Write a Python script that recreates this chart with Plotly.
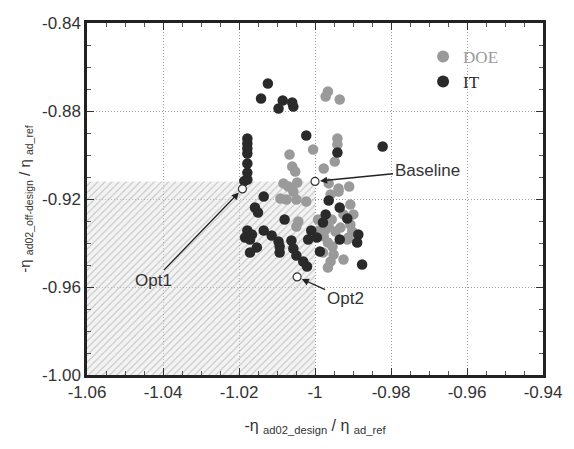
import numpy as np
import plotly.graph_objects as go

# ---- data ----
doe_x = [-0.9966, -0.9972, -0.9935, -0.9941, -0.9941, -1.0005, -1.0067, -0.9948, -1.0060, -1.0052,
         -0.9977, -1.0047, -1.0083, -1.0070, -1.0057, -1.0091, -1.0075, -1.0049, -1.0023, -0.9964,
         -0.9938, -0.9910, -0.9938, -0.9959, -0.9907, -0.9925, -0.9899, -0.9907, -1.0044, -1.0049,
         -0.9990, -0.9964, -0.9977, -0.9966, -0.9912, -0.9902, -0.9915, -0.9954, -0.9979, -0.9951,
         -0.9925, -0.9959, -0.9966, -0.9992, -0.9956, -0.9946, -0.9933, -0.9972]
doe_y = [-0.8711, -0.8734, -0.8748, -0.8925, -0.8952, -0.8975, -0.8998, -0.9030, -0.9052, -0.9075,
         -0.9061, -0.9125, -0.9129, -0.9143, -0.9166, -0.9198, -0.9202, -0.9202, -0.9211, -0.9129,
         -0.9152, -0.9143, -0.9166, -0.9179, -0.9225, -0.9270, -0.9270, -0.9316, -0.9302, -0.9325,
         -0.9343, -0.9325, -0.9370, -0.9398, -0.9375, -0.9348, -0.9384, -0.9416, -0.9443, -0.9452,
         -0.9475, -0.9484, -0.9511, -0.9293, -0.9293, -0.9348, -0.9330, -0.9339]

it_x = [-1.0124, -1.0142, -1.0085, -1.0096, -1.0060, -1.0057, -1.0023, -0.9822, -1.0178, -1.0178,
        -1.0178, -1.0178, -1.0178, -1.0178, -1.0178, -1.0186, -0.9941, -1.0135, -1.0158, -1.0150,
        -1.0080, -0.9964, -0.9935, -0.9972, -0.9915, -0.9979, -1.0178, -1.0166, -1.0184, -1.0171,
        -1.0135, -1.0114, -1.0096, -1.0093, -1.0153, -1.0171, -1.0093, -1.0062, -1.0057, -1.0049,
        -1.0031, -1.0021, -1.0010, -1.0018, -0.9995, -0.9987, -0.9935, -0.9886, -0.9889, -0.9876]
it_y = [-0.8675, -0.8743, -0.8752, -0.8789, -0.8761, -0.8780, -0.8911, -0.8961, -0.8925, -0.8948,
        -0.8970, -0.8993, -0.9039, -0.9080, -0.9111, -0.9118, -0.8989, -0.9189, -0.9239, -0.9261,
        -0.9293, -0.9207, -0.9239, -0.9270, -0.9289, -0.9307, -0.9343, -0.9361, -0.9375, -0.9384,
        -0.9343, -0.9366, -0.9393, -0.9416, -0.9420, -0.9443, -0.9443, -0.9389, -0.9425, -0.9457,
        -0.9484, -0.9507, -0.9343, -0.9384, -0.9375, -0.9439, -0.9384, -0.9361, -0.9398, -0.9498]

special_names = ["Baseline", "Opt1", "Opt2"]
special_x = [-1.0, -1.0191, -1.0047]
special_y = [-0.912, -0.9154, -0.9554]

x_ticks = [-1.06, -1.04, -1.02, -1.0, -0.98, -0.96, -0.94]
x_ticktext = ["-1.06", "-1.04", "-1.02", "-1", "-0.98", "-0.96", "-0.94"]
y_ticks = [-1.0, -0.96, -0.92, -0.88, -0.84]
y_ticktext = ["-1.00", "-0.96", "-0.92", "-0.88", "-0.84"]

# minor tick positions
x_minor = [round(v, 4) for v in np.arange(x_ticks[0], x_ticks[-1] + 1e-9, 0.005)]
y_minor = [round(v, 4) for v in np.arange(y_ticks[0], y_ticks[-1] + 1e-9, 0.01)]

# hatched region: better than baseline in both objectives
region_x = [x_ticks[0], special_x[0], special_x[0], x_ticks[0], x_ticks[0]]
region_y = [y_ticks[0], y_ticks[0], special_y[0], special_y[0], y_ticks[0]]

DOE_COLOR = "#9a9a9a"
IT_COLOR = "#2a2a2a"

fig = go.Figure()

fig.add_trace(go.Scatter(
    x=region_x, y=region_y, mode="lines", fill="toself",
    line=dict(width=0, color="rgba(0,0,0,0)"),
    fillcolor="rgba(220,220,220,0.4)",
    fillpattern=dict(shape="/", fgcolor="rgba(140,140,140,0.85)",
                     bgcolor="rgba(228,228,228,0.45)", size=5, solidity=0.22),
    showlegend=False, hoverinfo="skip"))

fig.add_trace(go.Scatter(
    x=doe_x, y=doe_y, mode="markers", name="<span style='color:#9a9a9a'>DOE</span>",
    marker=dict(color=DOE_COLOR, size=10.5, line=dict(width=0))))
fig.add_trace(go.Scatter(
    x=it_x, y=it_y, mode="markers", name="<span style='color:#2a2a2a'>IT</span>",
    marker=dict(color=IT_COLOR, size=10.5, line=dict(width=0))))
fig.add_trace(go.Scatter(
    x=special_x, y=special_y, mode="markers", showlegend=False,
    marker=dict(color="white", size=8, line=dict(width=1.2, color="#333"))))

# annotations (label offsets in pixels)
offsets = {"Baseline": (112, -11), "Opt1": (-89, 92), "Opt2": (48, 22)}
for name, xv, yv in zip(special_names, special_x, special_y):
    ax, ay = offsets[name]
    fig.add_annotation(x=xv, y=yv, xref="x", yref="y", text=name, showarrow=True,
                       ax=ax, ay=ay, arrowhead=2, arrowsize=1.1, arrowwidth=1.3,
                       arrowcolor="#222", standoff=5,
                       font=dict(family="Liberation Sans, Arial", size=17, color="#333"))

axis_common = dict(
    showline=True, linewidth=2.5, linecolor="#222", mirror="allticks",
    ticks="inside", ticklen=7, tickwidth=1.2, tickcolor="#333",
    showgrid=True, gridcolor="#9a9a9a", gridwidth=1, griddash="1px,2px",
    zeroline=False, layer="above traces",
    tickfont=dict(family="Liberation Sans, Arial", size=17, color="#333"),
)

fig.update_xaxes(
    range=[x_ticks[0], x_ticks[-1]], tickmode="array", tickvals=x_ticks, ticktext=x_ticktext,
    minor=dict(tickmode="array", tickvals=x_minor, ticks="inside", ticklen=4,
               tickcolor="#555", tickwidth=1, showgrid=False),
    title=dict(text="-η <sub>ad02_design</sub> / η <sub>ad_ref</sub>",
               font=dict(family="Liberation Sans, Arial", size=16, color="#333"), standoff=19),
    **axis_common)
fig.update_yaxes(
    range=[y_ticks[0], y_ticks[-1]], tickmode="array", tickvals=y_ticks, ticktext=y_ticktext,
    minor=dict(tickmode="array", tickvals=y_minor, ticks="inside", ticklen=4,
               tickcolor="#555", tickwidth=1, showgrid=False),
    title=dict(text="-η <sub>ad02_off-design</sub> / η <sub>ad_ref</sub>",
               font=dict(family="Liberation Sans, Arial", size=15, color="#333"), standoff=8),
    **axis_common)

fig.update_layout(
    width=574, height=449,
    margin=dict(l=87, r=23, t=23, b=74),
    paper_bgcolor="white", plot_bgcolor="white",
    legend=dict(x=0.737, y=0.955, xanchor="left", yanchor="top",
                bgcolor="rgba(0,0,0,0)", borderwidth=0,
                font=dict(family="Liberation Serif, Times New Roman", size=17),
                itemsizing="constant", tracegroupgap=0),
    showlegend=True,
)

fig.write_html("out.html")
